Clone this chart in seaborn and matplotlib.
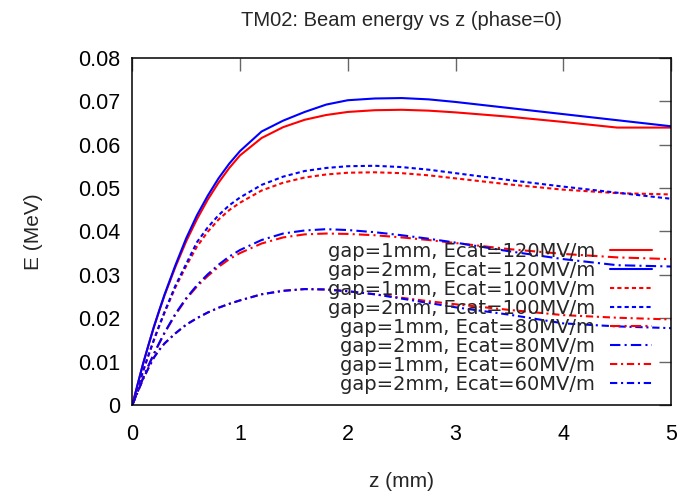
import numpy as np
import pandas as pd
import matplotlib
matplotlib.use('Agg')
import matplotlib.pyplot as plt
import seaborn as sns

# z positions (mm)
z = [0, 0.05, 0.1, 0.15, 0.2, 0.25, 0.3, 0.4, 0.5, 0.6, 0.7, 0.8, 0.9, 1.0, 1.2,
     1.4, 1.6, 1.8, 2.0, 2.25, 2.5, 2.75, 3.0, 3.5, 4.0, 4.5, 5.0]

# beam energy (MeV)
e_1mm_120 = [0, 0.0048, 0.0095, 0.0138, 0.0179, 0.0217, 0.0253, 0.0318, 0.0377, 0.0428,
             0.0473, 0.0512, 0.0546, 0.0575, 0.0615, 0.0640, 0.0657, 0.0668, 0.0675,
             0.0679, 0.0680, 0.0678, 0.0674, 0.0664, 0.0652, 0.0639, 0.0639]
e_2mm_120 = [0, 0.0048, 0.0095, 0.0138, 0.0180, 0.0218, 0.0255, 0.0322, 0.0384, 0.0437,
             0.0482, 0.0522, 0.0556, 0.0585, 0.0630, 0.0655, 0.0675, 0.0692, 0.0702,
             0.0706, 0.0707, 0.0704, 0.0698, 0.0684, 0.0670, 0.0656, 0.0642]
e_1mm_100 = [0, 0.0039, 0.0078, 0.0114, 0.0149, 0.0182, 0.0213, 0.0271, 0.0320, 0.0365,
             0.0399, 0.0427, 0.0449, 0.0466, 0.0494, 0.0512, 0.0524, 0.0531, 0.0535,
             0.0536, 0.0534, 0.0529, 0.0522, 0.0508, 0.0496, 0.0488, 0.0485]
e_2mm_100 = [0, 0.0039, 0.0078, 0.0115, 0.0150, 0.0183, 0.0215, 0.0275, 0.0325, 0.0375,
             0.0409, 0.0437, 0.0460, 0.0478, 0.0507, 0.0526, 0.0539, 0.0546, 0.0550,
             0.0551, 0.0548, 0.0542, 0.0534, 0.0518, 0.0503, 0.0489, 0.0475]
e_1mm_80 = [0, 0.0031, 0.0062, 0.0090, 0.0117, 0.0142, 0.0166, 0.0208, 0.0244, 0.0273,
            0.0297, 0.0318, 0.0336, 0.0350, 0.0372, 0.0386, 0.0393, 0.0395, 0.0394,
            0.0391, 0.0386, 0.0380, 0.0373, 0.0359, 0.0348, 0.0340, 0.0336]
e_2mm_80 = [0, 0.0031, 0.0062, 0.0091, 0.0118, 0.0143, 0.0167, 0.0210, 0.0246, 0.0276,
            0.0301, 0.0323, 0.0342, 0.0357, 0.0380, 0.0395, 0.0402, 0.0405, 0.0403,
            0.0398, 0.0391, 0.0383, 0.0374, 0.0354, 0.0336, 0.0322, 0.0319]
e_1mm_60 = [0, 0.0030, 0.0060, 0.0085, 0.0109, 0.0127, 0.0142, 0.0165, 0.0185, 0.0200,
            0.0213, 0.0224, 0.0233, 0.0241, 0.0255, 0.0263, 0.0267, 0.0266, 0.0262,
            0.0255, 0.0247, 0.0239, 0.0232, 0.0219, 0.0207, 0.0201, 0.0197]
e_2mm_60 = [0, 0.0030, 0.0060, 0.0085, 0.0109, 0.0127, 0.0142, 0.0165, 0.0185, 0.0200,
            0.0213, 0.0224, 0.0233, 0.0241, 0.0255, 0.0263, 0.0267, 0.0266, 0.0262,
            0.0255, 0.0245, 0.0235, 0.0225, 0.0208, 0.0188, 0.0181, 0.0177]

labels = ['gap=1mm, Ecat=120MV/m', 'gap=2mm, Ecat=120MV/m',
          'gap=1mm, Ecat=100MV/m', 'gap=2mm, Ecat=100MV/m',
          'gap=1mm, Ecat=80MV/m', 'gap=2mm, Ecat=80MV/m',
          'gap=1mm, Ecat=60MV/m', 'gap=2mm, Ecat=60MV/m']
series = [e_1mm_120, e_2mm_120, e_1mm_100, e_2mm_100,
          e_1mm_80, e_2mm_80, e_1mm_60, e_2mm_60]

colors = ['#ff0000', '#0000ff'] * 4
styles = ['-', '-',
          (0, (2, 1.5)), (0, (2, 1.5)),
          (0, (5, 2, 1, 2)), (0, (5, 2, 1, 2)),
          (0, (3.5, 1.8, 1, 1.8)), (0, (3.5, 1.8, 1, 1.8))]

sns.set_style('white')
plt.rcParams['font.family'] = ['Liberation Sans', 'DejaVu Sans']

fig = plt.figure(figsize=(6.92, 4.99), dpi=100)
ax = fig.add_axes([0.1912, 0.1884, 0.9697 - 0.1912, 0.8844 - 0.1884])

for vals, lab, c, ls in zip(series, labels, colors, styles):
    df = pd.DataFrame({'z': z, 'E': vals})
    sns.lineplot(data=df, x='z', y='E', ax=ax, color=c, linestyle=ls, lw=1.5,
                 label=lab, sort=False, estimator=None)

ax.set_xlim(0, 5)
ax.set_ylim(0, 0.08)
ax.set_xticks(np.arange(0, 6, 1))
ax.set_yticks(np.arange(0, 0.081, 0.01))
ax.set_yticklabels(['0', '0.01', '0.02', '0.03', '0.04', '0.05', '0.06', '0.07', '0.08'])

for sp in ax.spines.values():
    sp.set_visible(True)
    sp.set_color('black')
    sp.set_linewidth(1.1)

ax.tick_params(axis='both', which='major', direction='in', length=9, width=1,
               color='#666666', top=True, right=True, labelsize=15.5, labelcolor='black')
ax.tick_params(axis='x', pad=14)
ax.tick_params(axis='y', pad=8.5)

ax.set_xlabel('z (mm)', fontsize=15)
ax.set_ylabel('E (MeV)', fontsize=15)
ax.xaxis.set_label_coords(0.5, -0.219)
ax.xaxis.label.set_va('center')
ax.yaxis.set_label_coords(-0.184, 0.5)
ax.yaxis.label.set_va('center')
ax.set_title('TM02: Beam energy vs z (phase=0)', fontsize=14.5, y=1.1085, va='center', pad=0)

# gnuplot-style key: right-justified text, sample line on the right
leg = ax.legend(loc='lower right', bbox_to_anchor=(0.9647, 0.033), frameon=False,
                markerfirst=False, prop={'family': 'DejaVu Sans', 'size': 14},
                handlelength=2.16, handletextpad=0.77,
                labelspacing=0.0, borderpad=0, borderaxespad=0)

fig.savefig('out.png', dpi=100, facecolor='white')
